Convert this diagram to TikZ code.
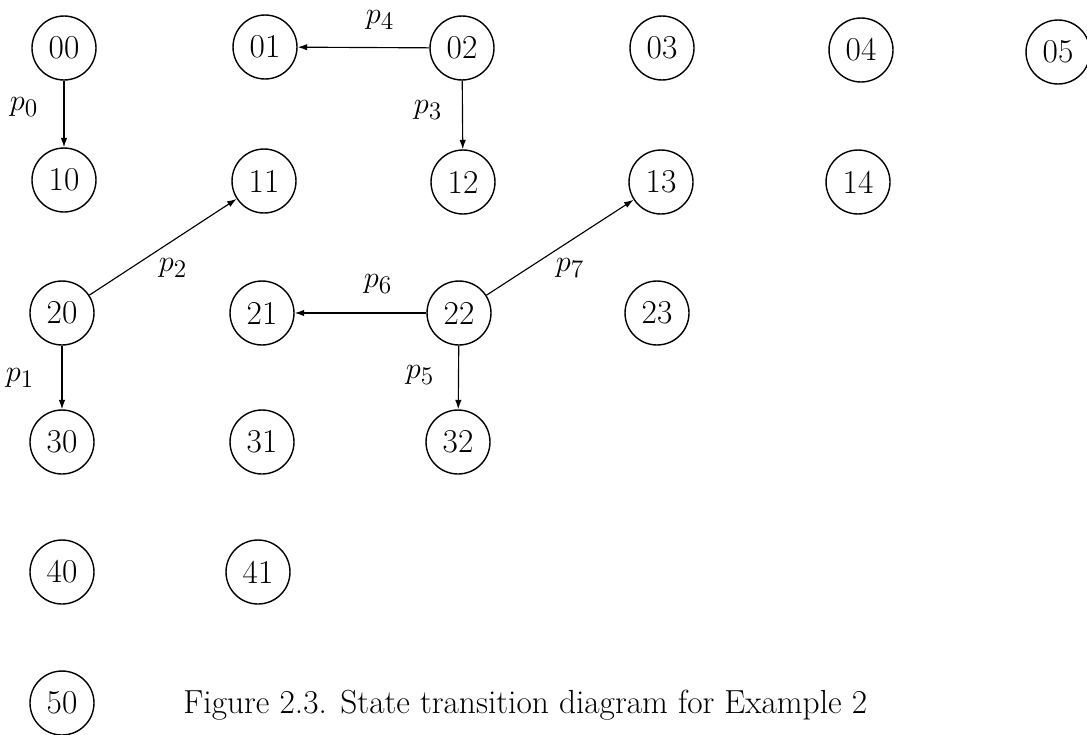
\documentclass[tikz,border=0pt]{standalone}
\usetikzlibrary{arrows.meta}
\begin{document}
\begin{tikzpicture}[x=0.02cm,y=-0.02cm,
  state/.style={draw,circle,line width=0.8pt,minimum size=1.28cm,inner sep=0pt,font=\fontsize{19}{23}\selectfont},
  arr/.style={line width=0.65pt,-{Latex[length=1.9mm,width=1.3mm]}},
  lab/.style={inner sep=0pt,font=\fontsize{19}{23}\selectfont}]
\useasboundingbox (0,0) rectangle (1087,734);
% column 0
\node[state] (n00) at (64,48) {00};
\node[state] (n10) at (64,180) {10};
\node[state] (n20) at (62,313) {20};
\node[state] (n30) at (62,442) {30};
\node[state] (n40) at (62,572) {40};
\node[state] (n50) at (62,703) {50};
% column 1
\node[state] (n01) at (265,47) {01};
\node[state] (n11) at (264,181) {11};
\node[state] (n21) at (262,313) {21};
\node[state] (n31) at (262,442) {31};
\node[state] (n41) at (258,572) {41};
% column 2
\node[state] (n02) at (462,48) {02};
\node[state] (n12) at (463,182) {12};
\node[state] (n22) at (459,313) {22};
\node[state] (n32) at (458,442) {32};
% column 3
\node[state] (n03) at (662,48) {03};
\node[state] (n13) at (661,182) {13};
\node[state] (n23) at (657,313) {23};
% column 4
\node[state] (n04) at (861,50) {04};
\node[state] (n14) at (858,182) {14};
% column 5
\node[state] (n05) at (1058,52) {05};
% edges
\draw[arr] (n00) -- (n10);
\draw[arr] (n02) -- (n01);
\draw[arr] (n02) -- (n12);
\draw[arr] (n20) -- (n11);
\draw[arr] (n20) -- (n30);
\draw[arr] (n22) -- (n21);
\draw[arr] (n22) -- (n32);
\draw[arr] (n22) -- (n13);
% labels
\node[lab] (l0) at (24,107) {$p_0$};
\node[lab] (l4) at (380,20) {$p_4$};
\node[lab] (l3) at (428,110) {$p_3$};
\node[lab] (l2) at (173,268) {$p_2$};
\node[lab] (l6) at (378,284) {$p_6$};
\node[lab] (l7) at (570,268) {$p_7$};
\node[lab] (l1) at (20,378) {$p_1$};
\node[lab] (l5) at (420,375) {$p_5$};
\node[lab,anchor=base west] (cap) at (183,713) {Figure 2.3. State transition diagram for Example 2};
\end{tikzpicture}
\end{document}
